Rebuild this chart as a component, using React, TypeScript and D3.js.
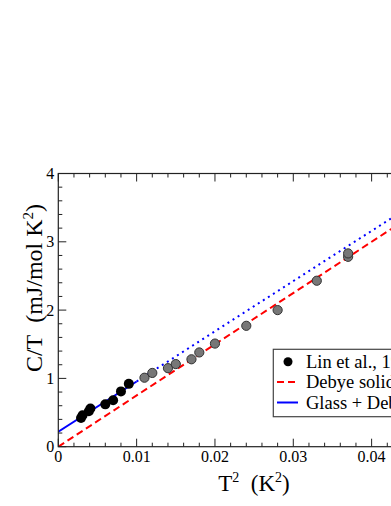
import React, { useEffect, useRef } from 'react';
import * as d3 from 'd3';

// measured points (Lin et al.)
const blackX = [0.0029, 0.0031, 0.0039, 0.0041, 0.006, 0.007, 0.008, 0.009];
const blackY = [0.42, 0.46, 0.52, 0.56, 0.62, 0.68, 0.81, 0.92];
const greyX = [0.011, 0.012, 0.014, 0.015, 0.017, 0.018, 0.02, 0.024, 0.028, 0.033, 0.037, 0.037];
const greyY = [1.01, 1.08, 1.15, 1.21, 1.28, 1.38, 1.51, 1.77, 2.0, 2.43, 2.78, 2.83];

// model lines
const debyeX = [0, 0.05];
const debyeY = [0, 3.75];
const glassX = [0, 0.01];
const glassY = [0.22, 0.955];
const glassDotX = [0.01, 0.05];
const glassDotY = [0.955, 3.895];

const xTicks = [0, 0.01, 0.02, 0.03, 0.04, 0.05];
const yTicks = [0, 1, 2, 3, 4];
const legendLabels = ['Lin et al., 1992', 'Debye solid', 'Glass + Debye'];

const FONT = '"Liberation Serif", "Times New Roman", serif';

const App = () => {
  const svgRef = useRef(null);

  useEffect(() => {
    const svg = d3.select(svgRef.current);
    svg.selectAll('*').remove();

    const width = 391;
    const height = 506;
    const margin = { top: 173.5, left: 58.3, bottom: 446.7 };

    const xScale = d3.scaleLinear().domain([0, 0.05]).range([margin.left, margin.left + 0.05 * 7833]);
    const yScale = d3.scaleLinear().domain([0, 4]).range([margin.bottom, margin.top]);

    svg.append('rect').attr('width', width).attr('height', height).attr('fill', '#fff');

    svg.append('defs').append('clipPath').attr('id', 'plotclip')
      .append('rect')
      .attr('x', xScale(0)).attr('y', yScale(4))
      .attr('width', xScale(0.05) - xScale(0)).attr('height', yScale(0) - yScale(4));

    const plot = svg.append('g').attr('clip-path', 'url(#plotclip)');

    const line = d3.line()
      .x(d => xScale(d[0]))
      .y(d => yScale(d[1]));

    plot.append('path')
      .datum(debyeX.map((x, i) => [x, debyeY[i]]))
      .attr('fill', 'none').attr('stroke', '#ff0000').attr('stroke-width', 2)
      .attr('stroke-dasharray', '7,4')
      .attr('d', line);

    plot.append('path')
      .datum(glassDotX.map((x, i) => [x, glassDotY[i]]))
      .attr('fill', 'none').attr('stroke', '#0000ff').attr('stroke-width', 2)
      .attr('stroke-dasharray', '2,4')
      .attr('d', line);

    plot.append('path')
      .datum(glassX.map((x, i) => [x, glassY[i]]))
      .attr('fill', 'none').attr('stroke', '#0000ff').attr('stroke-width', 2)
      .attr('d', line);

    plot.selectAll('circle.grey')
      .data(greyX.map((x, i) => [x, greyY[i]]))
      .enter().append('circle')
      .attr('class', 'grey')
      .attr('cx', d => xScale(d[0]))
      .attr('cy', d => yScale(d[1]))
      .attr('r', 4.6)
      .attr('fill', '#777')
      .attr('stroke', '#333')
      .attr('stroke-width', 1);

    plot.selectAll('circle.black')
      .data(blackX.map((x, i) => [x, blackY[i]]))
      .enter().append('circle')
      .attr('class', 'black')
      .attr('cx', d => xScale(d[0]))
      .attr('cy', d => yScale(d[1]))
      .attr('r', 5)
      .attr('fill', '#000');

    // frame
    const axisColor = '#222';
    svg.append('rect')
      .attr('x', xScale(0)).attr('y', yScale(4))
      .attr('width', xScale(0.05) - xScale(0)).attr('height', yScale(0) - yScale(4))
      .attr('fill', 'none').attr('stroke', axisColor).attr('stroke-width', 1.2);

    // ticks, inward, on all sides
    const xMinor = d3.range(0, 0.0501, 0.002);
    const yMinor = d3.range(0, 4.01, 0.2);
    const ticks = svg.append('g').attr('stroke', axisColor).attr('stroke-width', 1);

    xMinor.forEach(v => {
      const major = xTicks.some(t => Math.abs(t - v) < 1e-6);
      const len = major ? 8 : 4;
      const x = xScale(v);
      ticks.append('line').attr('x1', x).attr('x2', x).attr('y1', yScale(0)).attr('y2', yScale(0) - len);
      ticks.append('line').attr('x1', x).attr('x2', x).attr('y1', yScale(4)).attr('y2', yScale(4) + len);
    });
    yMinor.forEach(v => {
      const major = yTicks.some(t => Math.abs(t - v) < 1e-6);
      const len = major ? 8 : 4;
      const y = yScale(v);
      ticks.append('line').attr('x1', xScale(0)).attr('x2', xScale(0) + len).attr('y1', y).attr('y2', y);
      ticks.append('line').attr('x1', xScale(0.05)).attr('x2', xScale(0.05) - len).attr('y1', y).attr('y2', y);
    });

    // tick labels
    svg.selectAll('text.xt')
      .data(xTicks)
      .enter().append('text')
      .attr('x', d => xScale(d))
      .attr('y', yScale(0) + 15.5)
      .attr('text-anchor', 'middle')
      .style('font-family', FONT)
      .style('font-size', '16px')
      .text(d => (d === 0 ? '0' : d3.format('.2f')(d)));

    svg.selectAll('text.yt')
      .data(yTicks)
      .enter().append('text')
      .attr('x', xScale(0) - 4)
      .attr('y', d => yScale(d) + 5.5)
      .attr('text-anchor', 'end')
      .style('font-family', FONT)
      .style('font-size', '16px')
      .text(d => d);

    // axis titles
    const xt = svg.append('text')
      .attr('x', 254)
      .attr('y', 491)
      .attr('text-anchor', 'middle')
      .style('font-family', FONT)
      .style('font-size', '23px');
    xt.append('tspan').text('T');
    xt.append('tspan').attr('dy', -9).style('font-size', '14px').text('2');
    xt.append('tspan').attr('dy', 9).text('\u00a0\u00a0(K');
    xt.append('tspan').attr('dy', -9).style('font-size', '14px').text('2');
    xt.append('tspan').attr('dy', 9).text(')');

    const yt = svg.append('text')
      .attr('transform', `translate(42, 288) rotate(-90)`)
      .attr('text-anchor', 'middle')
      .style('font-family', FONT)
      .style('font-size', '24px');
    yt.append('tspan').text('C/T\u00a0\u00a0(mJ/mol K');
    yt.append('tspan').attr('dy', -9).style('font-size', '15px').text('2');
    yt.append('tspan').attr('dy', 9).text(')');

    // legend
    const legend = svg.append('g');
    legend.append('rect')
      .attr('x', 273.3).attr('y', 349.3)
      .attr('width', 200).attr('height', 67.4)
      .attr('fill', '#fff').attr('stroke', '#444').attr('stroke-width', 1.2);

    const rowY = [361.7, 382, 402.5];
    legend.append('circle').attr('cx', 288).attr('cy', rowY[0]).attr('r', 4.5).attr('fill', '#000');
    legend.append('line').attr('x1', 277).attr('x2', 298).attr('y1', rowY[1]).attr('y2', rowY[1])
      .attr('stroke', '#ff0000').attr('stroke-width', 2).attr('stroke-dasharray', '7,4');
    legend.append('line').attr('x1', 277).attr('x2', 298).attr('y1', rowY[2]).attr('y2', rowY[2])
      .attr('stroke', '#0000ff').attr('stroke-width', 2);

    legend.selectAll('text')
      .data(legendLabels)
      .enter().append('text')
      .attr('x', 306)
      .attr('y', (d, i) => rowY[i] + 6)
      .style('font-family', FONT)
      .style('font-size', '18.5px')
      .text(d => d);
  }, []);

  return (
    <svg
      ref={svgRef}
      width="391"
      height="506"
      style={{ position: 'absolute', left: 0, top: 0, overflow: 'hidden' }}
    ></svg>
  );
};

export default App;
